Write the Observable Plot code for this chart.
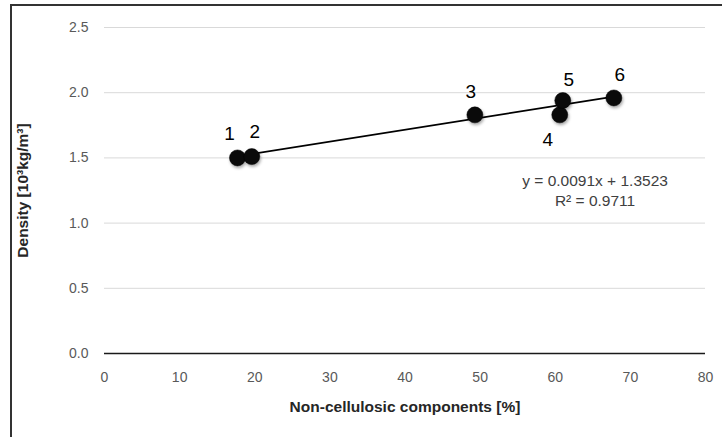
<!DOCTYPE html>
<html>
<head>
<meta charset="utf-8">
<script src="https://cdn.jsdelivr.net/npm/d3@7"></script>
<script src="https://cdn.jsdelivr.net/npm/@observablehq/plot@0.6"></script>
<style>
  html, body { margin: 0; padding: 0; background: #fff; }
  #wrap { position: relative; width: 722px; height: 437px; overflow: hidden; }
  #frame { position: absolute; left: 10px; top: 4px; right: -10px; bottom: -10px;
           border-left: 2px solid #333; border-top: 2px solid #333; pointer-events: none; }
  g[aria-label="dot"] { filter: drop-shadow(1px 2px 1.5px rgba(0,0,0,0.35)); }
  g[aria-label="x-axis tick label"], g[aria-label="y-axis tick label"] { font-size: 14px; }
  g[aria-label="x-axis label"], g[aria-label="y-axis label"] { font-size: 15.5px; font-weight: bold; }
</style>
</head>
<body>
<div id="wrap"><div id="chart"></div><div id="frame"></div></div>
<script>
// Data
const sampleIds = ["1", "2", "3", "4", "5", "6"];
const nonCellulosic = [17.7, 19.6, 49.3, 60.6, 61.0, 67.8];   // %
const density = [1.50, 1.51, 1.83, 1.83, 1.94, 1.96];         // 10^3 kg/m^3
const trendSlope = 0.0091;
const trendIntercept = 1.3523;
const rSquared = 0.9711;
const xTicks = [0, 10, 20, 30, 40, 50, 60, 70, 80];
const yTicks = [0, 0.5, 1.0, 1.5, 2.0, 2.5];

const points = sampleIds.map((id, i) => ({id, x: nonCellulosic[i], y: density[i]}));
const xMin = d3.min(nonCellulosic), xMax = d3.max(nonCellulosic);
const trend = [xMin, xMax].map(x => ({x, y: trendSlope * x + trendIntercept}));
const eqText = `y = ${trendSlope}x + ${trendIntercept}\nR² = ${rSquared}`;

// label offsets (style, not data)
const labelOffsets = [[-8, -24], [3, -25], [-4, -23], [-12, 25], [6, -21], [6, -23]];

const font = "'Liberation Sans', Arial, sans-serif";

const chart = Plot.plot({
  width: 722,
  height: 437,
  marginLeft: 104,
  marginRight: 17,
  marginTop: 27,
  marginBottom: 84,
  style: {fontFamily: font, color: "#595959", background: "#fff"},
  x: {domain: [0, 80], ticks: xTicks},
  y: {domain: [0, 2.5], ticks: yTicks},
  marks: [
    Plot.gridY(yTicks.filter(d => d > 0), {stroke: "#d9d9d9", strokeOpacity: 1, strokeWidth: 1}),
    Plot.ruleY([0], {stroke: "#1a1a1a", strokeWidth: 1.6}),
    Plot.axisX(xTicks, {tickSize: 0, tickPadding: 19, tickFormat: d3.format("d"),
      label: null, fill: "#595959"}),
    Plot.axisY(yTicks, {tickSize: 0, tickPadding: 16, tickFormat: d3.format(".1f"),
      label: null, fill: "#595959"}),
    Plot.axisX({ticks: [], tickSize: 0, label: "Non-cellulosic components [%]", labelAnchor: "center",
      labelArrow: "none", labelOffset: 58, fill: "#262626"}),
    Plot.axisY({ticks: [], tickSize: 0, label: "Density [10³kg/m³]", labelAnchor: "center",
      labelArrow: "none", labelOffset: 88, fill: "#262626"}),
    Plot.line(trend, {x: "x", y: "y", stroke: "#000", strokeWidth: 1.8}),
    Plot.dot(points, {x: "x", y: "y", r: 8, fill: "#0a0a0a", stroke: "#000", strokeWidth: 0.5}),
    ...points.map((p, i) => Plot.text([p], {x: "x", y: "y", text: "id",
      dx: labelOffsets[i][0], dy: labelOffsets[i][1], fontSize: 19, fill: "#000"})),
    Plot.text([eqText], {x: 65.3, y: 1.255, text: d => d, fontSize: 15.5, fill: "#404040",
      lineHeight: 1.25})
  ]
});

document.getElementById("chart").appendChild(chart);
</script>
</body>
</html>
